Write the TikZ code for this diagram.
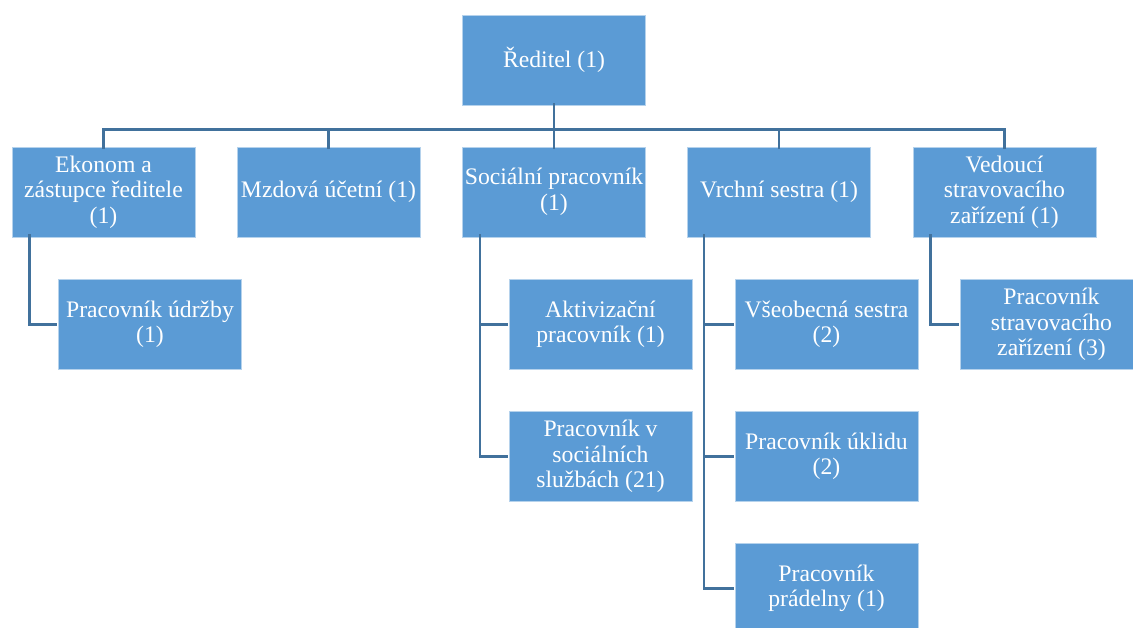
\documentclass[tikz,border=0pt]{standalone}
\usepackage{fontspec}
\newfontfamily\tnr{LiberationSerif}[Extension=.ttf, UprightFont=*-Regular]
\definecolor{boxblue}{RGB}{91,155,213}
\definecolor{lineblue}{RGB}{65,113,156}
\begin{document}
\begin{tikzpicture}[x=1pt,y=-1pt,
  box/.style={rectangle, fill=boxblue, draw=white!55!boxblue, line width=0.8pt,
    minimum width=183pt, minimum height=90pt, inner sep=0pt, text=white,
    align=center, font=\tnr\fontsize{23.7}{25.5}\selectfont},
  conn/.style={draw=lineblue, line width=2.7pt}]
\clip (0,0) rectangle (1133,627);
\fill[white] (0,0) rectangle (1133,627);
% nodes
\node[box] (top) at (554,60) {Ředitel (1)};
\node[box] (s1) at (103.5,192) {Ekonom a\\zástupce ředitele\\(1)};
\node[box] (s2) at (328.5,192) {Mzdová účetní (1)};
\node[box] (s3) at (554,192) {Sociální pracovník\\(1)};
\node[box] (s4) at (779,192) {Vrchní sestra (1)};
\node[box] (s5) at (1004.5,192) {Vedoucí\\stravovacího\\zařízení (1)};
\node[box] (c1) at (150,324.5) {Pracovník údržby\\(1)};
\node[box] (a1) at (600.5,324.5) {Aktivizační\\pracovník (1)};
\node[box] (a2) at (600.5,456.5) {Pracovník v\\sociálních\\službách (21)};
\node[box] (v1) at (826.5,324.5) {Všeobecná sestra\\(2)};
\node[box] (v2) at (826.5,456.5) {Pracovník úklidu\\(2)};
\node[box] (v3) at (826.5,588.5) {Pracovník\\prádelny (1)};
\node[box] (w1) at (1051.5,324.5) {Pracovník\\stravovacího\\zařízení (3)};
% connectors
\draw[conn] ([yshift=2pt]top.south) -- ([yshift=-2pt]s3.north);
\draw[conn] ([yshift=-2pt]s1.north) -- ++(0,-19) -| ([yshift=-2pt]s5.north);
\draw[conn] ([yshift=-2pt]s2.north) -- ++(0,-19);
\draw[conn] ([yshift=-2pt]s4.north) -- ++(0,-19);
\draw[conn] ([xshift=18pt,yshift=3pt]s1.south west) |- ([xshift=-1pt]c1.west);
\draw[conn] ([xshift=18pt,yshift=3pt]s3.south west) |- ([xshift=-1pt]a1.west);
\draw[conn] ([xshift=18pt,yshift=3pt]s3.south west) |- ([xshift=-1pt]a2.west);
\draw[conn] ([xshift=17pt,yshift=3pt]s4.south west) |- ([xshift=-1pt]v1.west);
\draw[conn] ([xshift=17pt,yshift=3pt]s4.south west) |- ([xshift=-1pt]v2.west);
\draw[conn] ([xshift=17pt,yshift=3pt]s4.south west) |- ([xshift=-1pt]v3.west);
\draw[conn] ([xshift=18pt,yshift=3pt]s5.south west) |- ([xshift=-1pt]w1.west);
\end{tikzpicture}
\end{document}
